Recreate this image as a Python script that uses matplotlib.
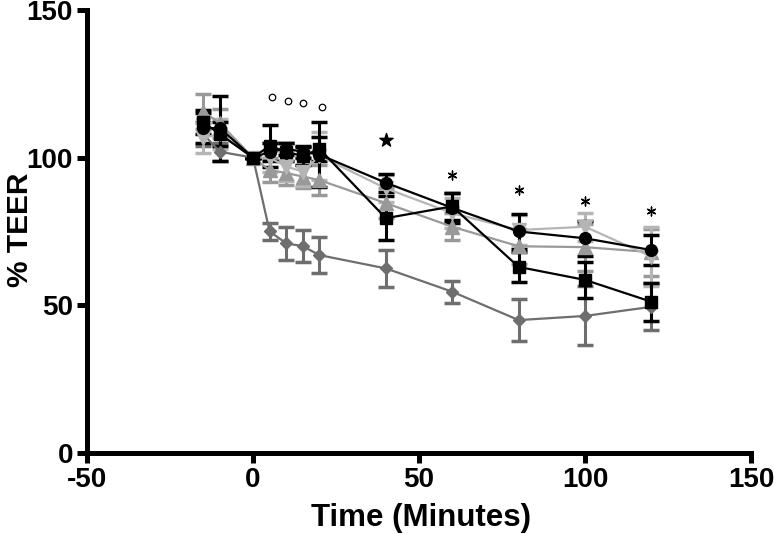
import matplotlib
matplotlib.use("Agg")
import matplotlib.pyplot as plt
import numpy as np

plt.rcParams['font.family'] = ['Liberation Sans', 'DejaVu Sans']
plt.rcParams['font.weight'] = 'bold'
plt.rcParams['axes.unicode_minus'] = False

# ─── Data ────────────────────────────────────────────────────────────────
time = [-15, -10, 0, 5, 10, 15, 20, 40, 60, 80, 100, 120]

sq_mean = [112, 108, 100, 104, 102, 100.5, 103, 79.5, 83.5, 63, 58.6, 51.2]
sq_err = [4, 4, 0, 7, 3, 3, 4, 7.5, 4.6, 5, 6.2, 6.5]

ci_mean = [110, 110, 100, 102, 103, 102, 101, 91.5, 83, 75, 72.7, 68.7]
ci_err = [5, 11, 0, 3, 2, 2, 11, 3, 5, 6, 6, 5]

di_mean = [108, 102, 100, 75, 71, 70, 67, 62.5, 54.6, 45, 46.4, 49.5]
di_err = [4, 3, 0, 2.8, 5.5, 5.5, 6.2, 6.4, 3.7, 7.2, 10, 8]

up_mean = [115.6, 111.6, 100, 95.8, 94.8, 93.6, 92.4, 84.6, 76.6, 70, 69.7, 68]
up_err = [6, 5, 0, 4, 4, 4, 5, 5, 4.6, 6, 8, 8]

dn_mean = [106.7, 108, 100, 100, 97, 95.3, 100.6, 89.6, 81.2, 75.5, 76.6, 66.5]
dn_err = [5, 5, 0, 5, 5, 5, 8, 4.5, 5, 5, 4.8, 10]

circ_x = [5.6, 10.6, 15.2, 20.7]
circ_y = [120.6, 119.3, 118.4, 117.0]
star_x = [40]
star_y = [106]
ast_x = [60, 80, 100, 120]
ast_y = [94, 89, 85.3, 81.8]

# ─── Plot ────────────────────────────────────────────────────────────────
fig = plt.figure(figsize=(7.74, 5.34), dpi=100)
ax = fig.add_axes([0.1124, 0.1517, 0.858, 0.8296])

series = [
    (di_mean, di_err, "D", "#6e6e6e", 6.5),
    (up_mean, up_err, "^", "#999999", 10),
    (dn_mean, dn_err, "v", "#b5b5b5", 10),
    (ci_mean, ci_err, "o", "#000000", 8.5),
    (sq_mean, sq_err, "s", "#000000", 8.5),
]
for mean, err, mk, col, ms in series:
    ax.errorbar(time, mean, yerr=err, marker=mk, color=col, ms=ms,
                lw=1.6, elinewidth=2.2, capsize=6, capthick=2.5,
                markeredgecolor=col)

ax.scatter(circ_x, circ_y, s=22, facecolors="white", edgecolors="black", lw=0.9)
ax.scatter(star_x, star_y, marker="*", s=100, color="black")
ax.scatter(ast_x, ast_y, marker=(6, 2, 0), s=40, color="black", lw=1.0)

ax.set_xlim(-50, 150)
ax.set_ylim(0, 150)
ax.set_xticks([-50, 0, 50, 100, 150])
ax.set_yticks([0, 50, 100, 150])

for s in ["top", "right"]:
    ax.spines[s].set_visible(False)
for s in ["left", "bottom"]:
    ax.spines[s].set_linewidth(3.6)
ax.tick_params(width=3.6, length=7, labelsize=20, pad=3)
for lab in ax.get_xticklabels() + ax.get_yticklabels():
    lab.set_fontweight("bold")

ax.set_xlabel("Time (Minutes)", fontsize=22.5, fontweight="bold")
ax.set_ylabel("% TEER", fontsize=21.5, fontweight="bold")
ax.xaxis.set_label_coords(0.503, -0.113)
ax.yaxis.set_label_coords(-0.08, 0.503)

fig.savefig("out.png", dpi=100)
